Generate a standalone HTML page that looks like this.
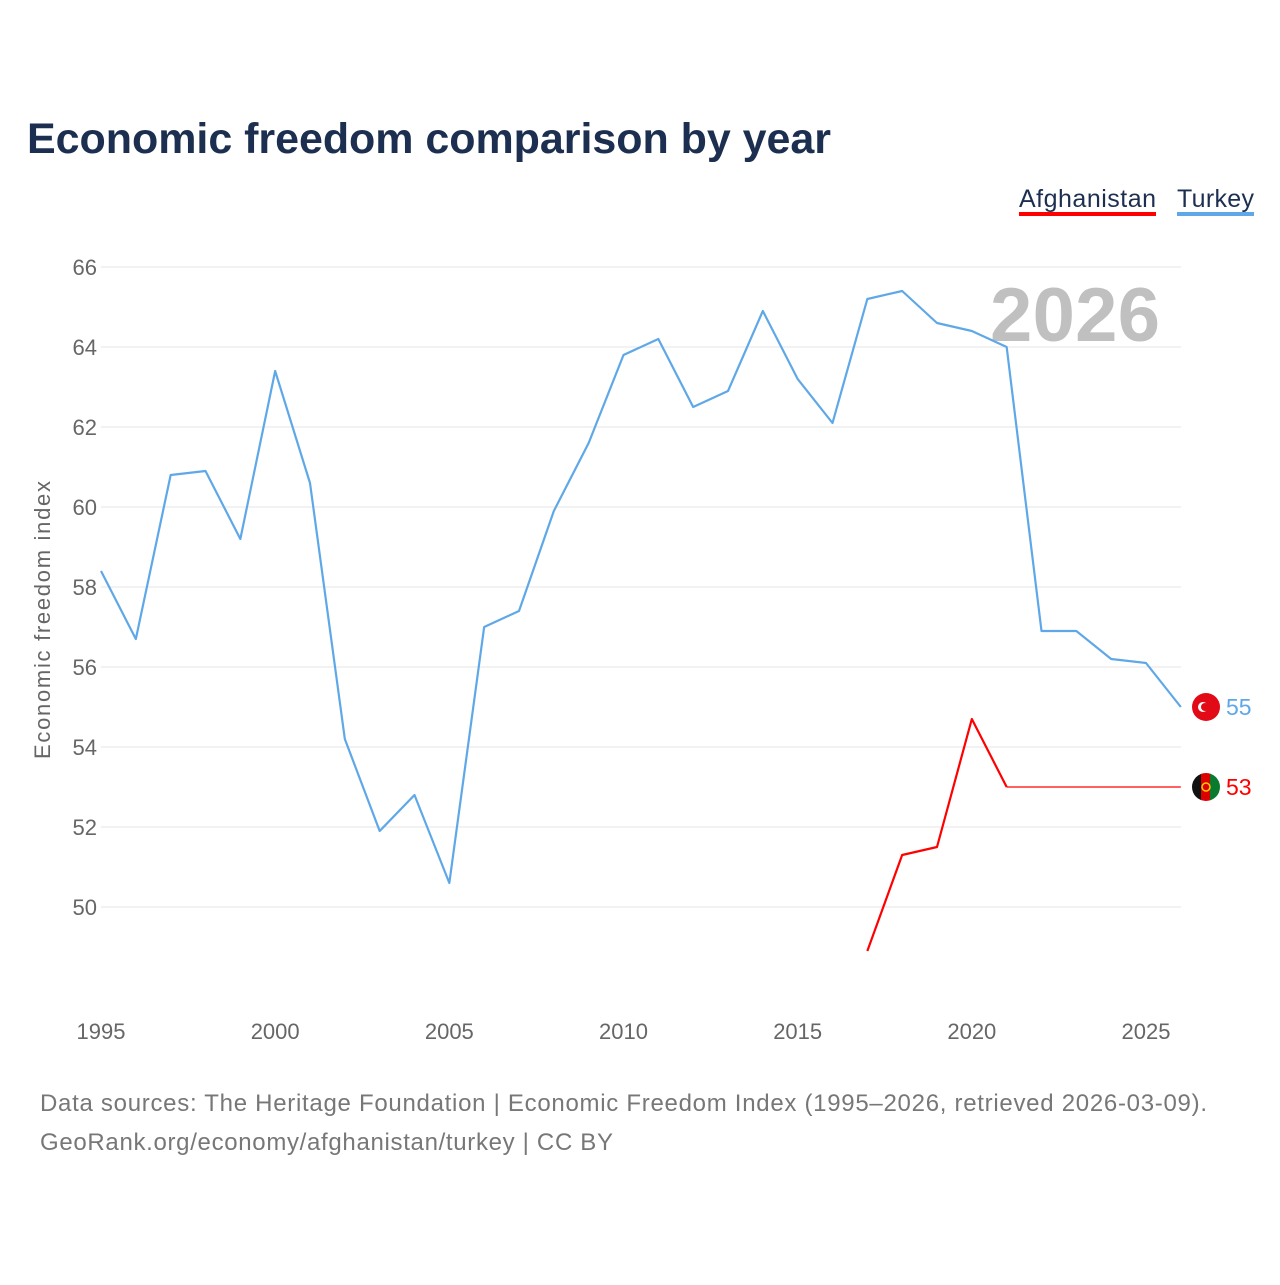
<!DOCTYPE html>
<html><head><meta charset="utf-8"><style>
body{margin:0;background:#fff;font-family:"Liberation Sans",sans-serif;}
svg text{font-family:"Liberation Sans",sans-serif;}
</style></head><body>
<svg width="1280" height="1280" viewBox="0 0 1280 1280" id="chart">
<defs><clipPath id="afc"><circle cx="1206" cy="787" r="14"/></clipPath></defs>
<text x="27" y="153" font-size="43" font-weight="bold" fill="#1c2f50" textLength="804">Economic freedom comparison by year</text>
<g>
<text x="1019" y="207" font-size="25" fill="#1c2f50" textLength="137">Afghanistan</text>
<rect x="1019" y="212" width="137" height="4" fill="#f00"/>
<text x="1177" y="207" font-size="25" fill="#1c2f50" textLength="77">Turkey</text>
<rect x="1177" y="212" width="77" height="4" fill="#5fa8e8"/>
</g>
<text x="1160" y="341" font-size="76" font-weight="bold" fill="#c0c0c0" text-anchor="end" textLength="170">2026</text>
<g id="grid"></g><g id="series"></g>
<text transform="translate(50,620) rotate(-90)" font-size="22" fill="#666" text-anchor="middle" textLength="278">Economic freedom index</text>
<text x="40" y="1111" font-size="24" fill="#777" textLength="1167">Data sources: The Heritage Foundation | Economic Freedom Index (1995–2026, retrieved 2026-03-09).</text>
<text x="40" y="1150" font-size="24" fill="#777" textLength="573">GeoRank.org/economy/afghanistan/turkey | CC BY</text>
</svg>
<script>
const years=[1995,1996,1997,1998,1999,2000,2001,2002,2003,2004,2005,2006,2007,2008,2009,2010,2011,2012,2013,2014,2015,2016,2017,2018,2019,2020,2021,2022,2023,2024,2025,2026];
const turkey=[58.4,56.7,60.8,60.9,59.2,63.4,60.6,54.2,51.9,52.8,50.6,57.0,57.4,59.9,61.6,63.8,64.2,62.5,62.9,64.9,63.2,62.1,65.2,65.4,64.6,64.4,64.0,56.9,56.9,56.2,56.1,55.0];
const afghanistan=[null,null,null,null,null,null,null,null,null,null,null,null,null,null,null,null,null,null,null,null,null,null,48.9,51.3,51.5,54.7,53.0,null,null,null,null,null];
const yTicks=[50,52,54,56,58,60,62,64,66];
const xTicks=[1995,2000,2005,2010,2015,2020,2025];
const NS="http://www.w3.org/2000/svg";
const X=y=>101+(y-1995)*(1045/30);
const Y=v=>907-(v-50)*40;
function mk(t,a,p){const e=document.createElementNS(NS,t);for(const k in a)e.setAttribute(k,a[k]);p.appendChild(e);return e;}
const g=document.getElementById('grid'),s=document.getElementById('series');
yTicks.forEach(v=>{
 const l=mk('line',{x1:101,x2:1181,y1:Y(v),y2:Y(v),stroke:'#e6e6e6','stroke-width':1},g);
 
 
 const t=mk('text',{x:97,y:Y(v)+8,'font-size':22,fill:'#666','text-anchor':'end'},g);
 t.textContent=v;
 
 
});
xTicks.forEach(v=>{
 const t=mk('text',{x:X(v),y:1039,'font-size':22,fill:'#666','text-anchor':'middle'},g);
 t.textContent=v;
 
 
});
function line(vals,color,name){
 let d='',lastI=-1;vals.forEach((v,i)=>{if(v==null)return;d+=(d?'L':'M')+X(years[i])+','+Y(v);lastI=i;});
 const p=mk('path',{d:d,fill:'none',stroke:color,'stroke-width':2.2,'stroke-linejoin':'round'},s);
 
 
 const last=vals[lastI];
 if(lastI<years.length-1){
  const ext=mk('line',{x1:X(years[lastI]),y1:Y(last),x2:X(years[years.length-1]),y2:Y(last),stroke:color,'stroke-width':1.2},s);
  
  
 }
 const cy=Y(last);
 if(name=='turkey'){
  const c=mk('circle',{cx:1206,cy:cy,r:14,fill:'#e30a17'},s);
  
  
  mk('circle',{cx:1203,cy:cy,r:5,fill:'#fff'},s);mk('circle',{cx:1205,cy:cy,r:4,fill:'#e30a17'},s);
 } else {
  const fg=mk('g',{'clip-path':'url(#afc)'},s);
  
  
  mk('rect',{x:1192,y:cy-14,width:10,height:28,fill:'#111'},fg);
  mk('rect',{x:1201,y:cy-14,width:10,height:28,fill:'#d00'},fg);
  mk('rect',{x:1210,y:cy-14,width:10,height:28,fill:'#0a7a2f'},fg);
  mk('circle',{cx:1206,cy:cy,r:4,fill:'none',stroke:'#fc0','stroke-width':1.5},fg);
 }
 const t=mk('text',{x:1226,y:cy+8,'font-size':23,fill:color},s);
 t.textContent=Math.round(last);
 
 
}
line(turkey,'#5fa8e8','turkey');
line(afghanistan,'#f00','afghanistan');
</script>
</body></html>
